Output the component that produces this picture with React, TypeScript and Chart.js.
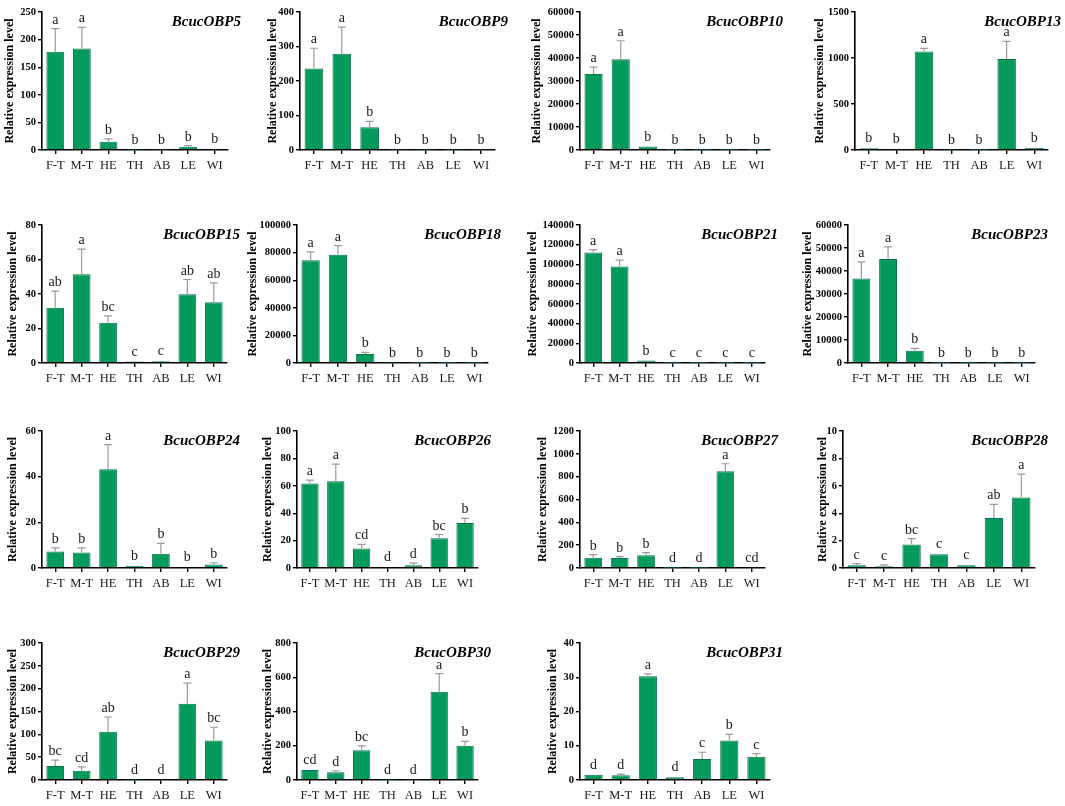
import React, { useEffect, useRef } from "react";
import { Chart, registerables } from "chart.js";

Chart.register(...registerables);

// ---------- data ----------
const tissues = ["F-T", "M-T", "HE", "TH", "AB", "LE", "WI"];
const genes = [
  "BcucOBP5", "BcucOBP9", "BcucOBP10", "BcucOBP13",
  "BcucOBP15", "BcucOBP18", "BcucOBP21", "BcucOBP23",
  "BcucOBP24", "BcucOBP26", "BcucOBP27", "BcucOBP28",
  "BcucOBP29", "BcucOBP30", "BcucOBP31",
];

const obp5Values = [178, 184, 15, 0.5, 0.4, 6, 1.2];
const obp5Errors = [42, 38, 5, 0.3, 0.3, 2, 0.6];
const obp5Letters = ["a", "a", "b", "b", "b", "b", "b"];

const obp9Values = [236, 279, 66, 0.6, 0.5, 0.5, 0.5];
const obp9Errors = [59, 77, 17, 0.2, 0.2, 0.2, 0.2];
const obp9Letters = ["a", "a", "b", "b", "b", "b", "b"];

const obp10Values = [33000, 39500, 1500, 50, 40, 40, 30];
const obp10Errors = [3000, 8000, 300, 10, 10, 10, 10];
const obp10Letters = ["a", "a", "b", "b", "b", "b", "b"];

const obp13Values = [20, 12, 1070, 2, 1, 990, 22];
const obp13Errors = [5, 5, 35, 1, 1, 190, 8];
const obp13Letters = ["b", "b", "a", "b", "b", "a", "b"];

const obp15Values = [32, 51.5, 23.3, 0.8, 1, 39.8, 35.2];
const obp15Errors = [9.7, 14.5, 4, 0.2, 0.4, 8.6, 11.2];
const obp15Letters = ["ab", "a", "bc", "c", "c", "ab", "ab"];

const obp18Values = [74500, 78500, 6500, 100, 80, 80, 60];
const obp18Errors = [6000, 6500, 1200, 20, 20, 20, 20];
const obp18Letters = ["a", "a", "b", "b", "b", "b", "b"];

const obp21Values = [112000, 97800, 2500, 60, 50, 50, 40];
const obp21Errors = [3000, 6500, 800, 10, 10, 10, 10];
const obp21Letters = ["a", "a", "b", "c", "c", "c", "c"];

const obp23Values = [36700, 45200, 5300, 50, 40, 40, 30];
const obp23Errors = [7300, 5300, 1100, 10, 10, 10, 10];
const obp23Letters = ["a", "a", "b", "b", "b", "b", "b"];

const obp24Values = [7.2, 6.8, 43.2, 1, 6.2, 0.4, 1.5];
const obp24Errors = [1.6, 2, 10.8, 0.2, 4.6, 0.2, 0.8];
const obp24Letters = ["b", "b", "a", "b", "b", "b", "b"];

const obp26Values = [61.7, 63.3, 14.2, 0.5, 2, 21.8, 32.9];
const obp26Errors = [2.5, 12.5, 3, 0.2, 1.5, 2.5, 3.3];
const obp26Letters = ["a", "a", "cd", "d", "d", "bc", "b"];

const obp27Values = [90, 88, 112, 1, 1, 848, 4];
const obp27Errors = [28, 12, 22, 0.5, 0.5, 65, 2];
const obp27Letters = ["b", "b", "b", "d", "d", "a", "cd"];

const obp28Values = [0.2, 0.13, 1.72, 1.0, 0.2, 3.65, 5.15];
const obp28Errors = [0.12, 0.1, 0.42, 0.02, 0.04, 1.0, 1.7];
const obp28Letters = ["c", "c", "bc", "c", "c", "ab", "a"];

const obp29Values = [30.5, 20.3, 105.5, 0.5, 1, 167, 86.5];
const obp29Errors = [13, 8.5, 32.5, 0.3, 1.5, 45, 29];
const obp29Letters = ["bc", "cd", "ab", "d", "d", "a", "bc"];

const obp30Values = [58, 45, 174, 1, 1, 515, 200];
const obp30Errors = [4, 9, 25, 0.5, 0.5, 106, 25];
const obp30Letters = ["cd", "d", "bc", "d", "d", "a", "b"];

const obp31Values = [1.5, 1.4, 30.3, 0.8, 6.1, 11.5, 6.8];
const obp31Errors = [0.15, 0.3, 0.7, 0.1, 2, 1.8, 0.9];
const obp31Letters = ["d", "d", "a", "d", "c", "b", "c"];

const yMax = [250, 400, 60000, 1500, 80, 100000, 140000, 60000, 60, 100, 1200, 10, 300, 800, 40];
const yStep = [50, 100, 10000, 500, 20, 20000, 20000, 10000, 20, 20, 200, 2, 50, 200, 10];

const seriesValues = [
  obp5Values, obp9Values, obp10Values, obp13Values,
  obp15Values, obp18Values, obp21Values, obp23Values,
  obp24Values, obp26Values, obp27Values, obp28Values,
  obp29Values, obp30Values, obp31Values,
];
const seriesErrors = [
  obp5Errors, obp9Errors, obp10Errors, obp13Errors,
  obp15Errors, obp18Errors, obp21Errors, obp23Errors,
  obp24Errors, obp26Errors, obp27Errors, obp28Errors,
  obp29Errors, obp30Errors, obp31Errors,
];
const seriesLetters = [
  obp5Letters, obp9Letters, obp10Letters, obp13Letters,
  obp15Letters, obp18Letters, obp21Letters, obp23Letters,
  obp24Letters, obp26Letters, obp27Letters, obp28Letters,
  obp29Letters, obp30Letters, obp31Letters,
];

// ---------- layout (pixels) ----------
const rowTop = [12, 225, 431, 643];
const rowBottom = [150, 363, 568, 780];
// yt: centre of y-axis title, ax: y-axis line x, r: right end of x axis
const panelLayout = [
  { row: 0, yt: 10, ax: 42, r: 228 },
  { row: 0, yt: 273, ax: 300, r: 495 },
  { row: 0, yt: 537, ax: 580, r: 770 },
  { row: 0, yt: 820, ax: 855, r: 1048 },
  { row: 1, yt: 13, ax: 42, r: 227 },
  { row: 1, yt: 253, ax: 297, r: 488 },
  { row: 1, yt: 533, ax: 580, r: 765 },
  { row: 1, yt: 808, ax: 848, r: 1035 },
  { row: 2, yt: 13, ax: 42, r: 227 },
  { row: 2, yt: 268, ax: 297, r: 478 },
  { row: 2, yt: 543, ax: 580, r: 765 },
  { row: 2, yt: 823, ax: 843, r: 1035 },
  { row: 3, yt: 13, ax: 42, r: 227 },
  { row: 3, yt: 268, ax: 297, r: 478 },
  { row: 3, yt: 553, ax: 580, r: 770 },
];

const SERIF = "'Liberation Serif', 'Times New Roman', serif";
const BAR_FILL = "#04995d";
const BAR_EDGE = "#0b7447";
const ERR_COLOR = "#9b9b9b";
const PAD_TOP = 10;
const PAD_RIGHT = 22;
const X_AXIS_H = 30;

function makeAnnotPlugin(i: number) {
  return {
    id: "annot" + i,
    afterDatasetsDraw(chart: any) {
      const ctx = chart.ctx;
      const meta = chart.getDatasetMeta(0);
      const ys = chart.scales.y;
      const vals = seriesValues[i];
      const errs = seriesErrors[i];
      const lets = seriesLetters[i];
      ctx.save();
      meta.data.forEach((bar: any, k: number) => {
        const x = bar.x;
        const yb = ys.getPixelForValue(vals[k]);
        const yt = ys.getPixelForValue(vals[k] + errs[k]);
        if (yb - yt > 0.8) {
          ctx.strokeStyle = ERR_COLOR;
          ctx.lineWidth = 1.2;
          ctx.beginPath();
          ctx.moveTo(x, yb);
          ctx.lineTo(x, yt);
          ctx.moveTo(x - 4, yt);
          ctx.lineTo(x + 4, yt);
          ctx.stroke();
        }
        ctx.fillStyle = "#1a1a1a";
        ctx.font = "14px " + SERIF;
        ctx.textAlign = "center";
        ctx.textBaseline = "alphabetic";
        ctx.fillText(lets[k], x, Math.min(yt, yb - 1) - 5);
      });
      ctx.fillStyle = "#000";
      ctx.font = "italic bold 15px " + SERIF;
      ctx.textAlign = "right";
      ctx.textBaseline = "middle";
      ctx.fillText(genes[i], chart.chartArea.right + 13, chart.chartArea.top + 10);
      ctx.restore();
    },
  };
}

function Panel({ i }: { i: number }) {
  const ref = useRef<HTMLCanvasElement | null>(null);
  const L = panelLayout[i];
  const left = Math.round(L.yt - 7);
  const top = rowTop[L.row] - PAD_TOP;
  const width = L.r - left + PAD_RIGHT;
  const height = rowBottom[L.row] - rowTop[L.row] + PAD_TOP + X_AXIS_H;
  const yAxisW = L.ax - left;

  useEffect(() => {
    if (!ref.current) return;
    const chart = new Chart(ref.current, {
      type: "bar",
      data: {
        labels: tissues,
        datasets: [
          {
            data: seriesValues[i],
            backgroundColor: BAR_FILL,
            borderColor: BAR_EDGE,
            borderWidth: 1,
            barPercentage: 0.67,
            categoryPercentage: 1,
          },
        ],
      },
      options: {
        animation: false,
        responsive: false,
        maintainAspectRatio: false,
        devicePixelRatio: window.devicePixelRatio || 1,
        layout: { padding: { top: PAD_TOP, right: PAD_RIGHT, left: 0, bottom: 0 } },
        plugins: { legend: { display: false }, tooltip: { enabled: false } },
        scales: {
          x: {
            offset: true,
            afterFit: (s: any) => {
              s.height = X_AXIS_H;
            },
            border: { display: true, color: "#000", width: 1.6 },
            grid: {
              display: true,
              drawOnChartArea: false,
              drawTicks: true,
              tickLength: 4,
              color: "#000",
              lineWidth: 1.4,
              offset: false,
            },
            ticks: {
              color: "#1a1a1a",
              padding: 4,
              maxRotation: 0,
              autoSkip: false,
              font: { family: SERIF, size: 12.5 },
            },
          },
          y: {
            min: 0,
            max: yMax[i],
            afterFit: (s: any) => {
              s.width = yAxisW;
            },
            border: { display: true, color: "#000", width: 1.6 },
            grid: {
              display: true,
              drawOnChartArea: false,
              drawTicks: true,
              tickLength: 4,
              color: "#000",
              lineWidth: 1.4,
            },
            ticks: {
              stepSize: yStep[i],
              color: "#000",
              padding: 2,
              callback: (v: any) => String(v),
              font: { family: SERIF, size: 10.5, weight: "bold" },
            },
            title: {
              display: true,
              text: "Relative expression level",
              color: "#000",
              padding: { top: 0, bottom: 2 },
              font: { family: SERIF, size: 12, weight: "bold" },
            },
          },
        },
      } as any,
      plugins: [makeAnnotPlugin(i)],
    });
    return () => chart.destroy();
  }, [i]);

  return (
    <canvas
      ref={ref}
      width={width}
      height={height}
      style={{ position: "absolute", left, top, width, height }}
    />
  );
}

export default function App() {
  return (
    <div
      style={{
        position: "absolute",
        left: 0,
        top: 0,
        width: 1065,
        height: 806,
        background: "#fff",
        overflow: "hidden",
      }}
    >
      {panelLayout.map((_, i) => (
        <Panel key={i} i={i} />
      ))}
    </div>
  );
}
